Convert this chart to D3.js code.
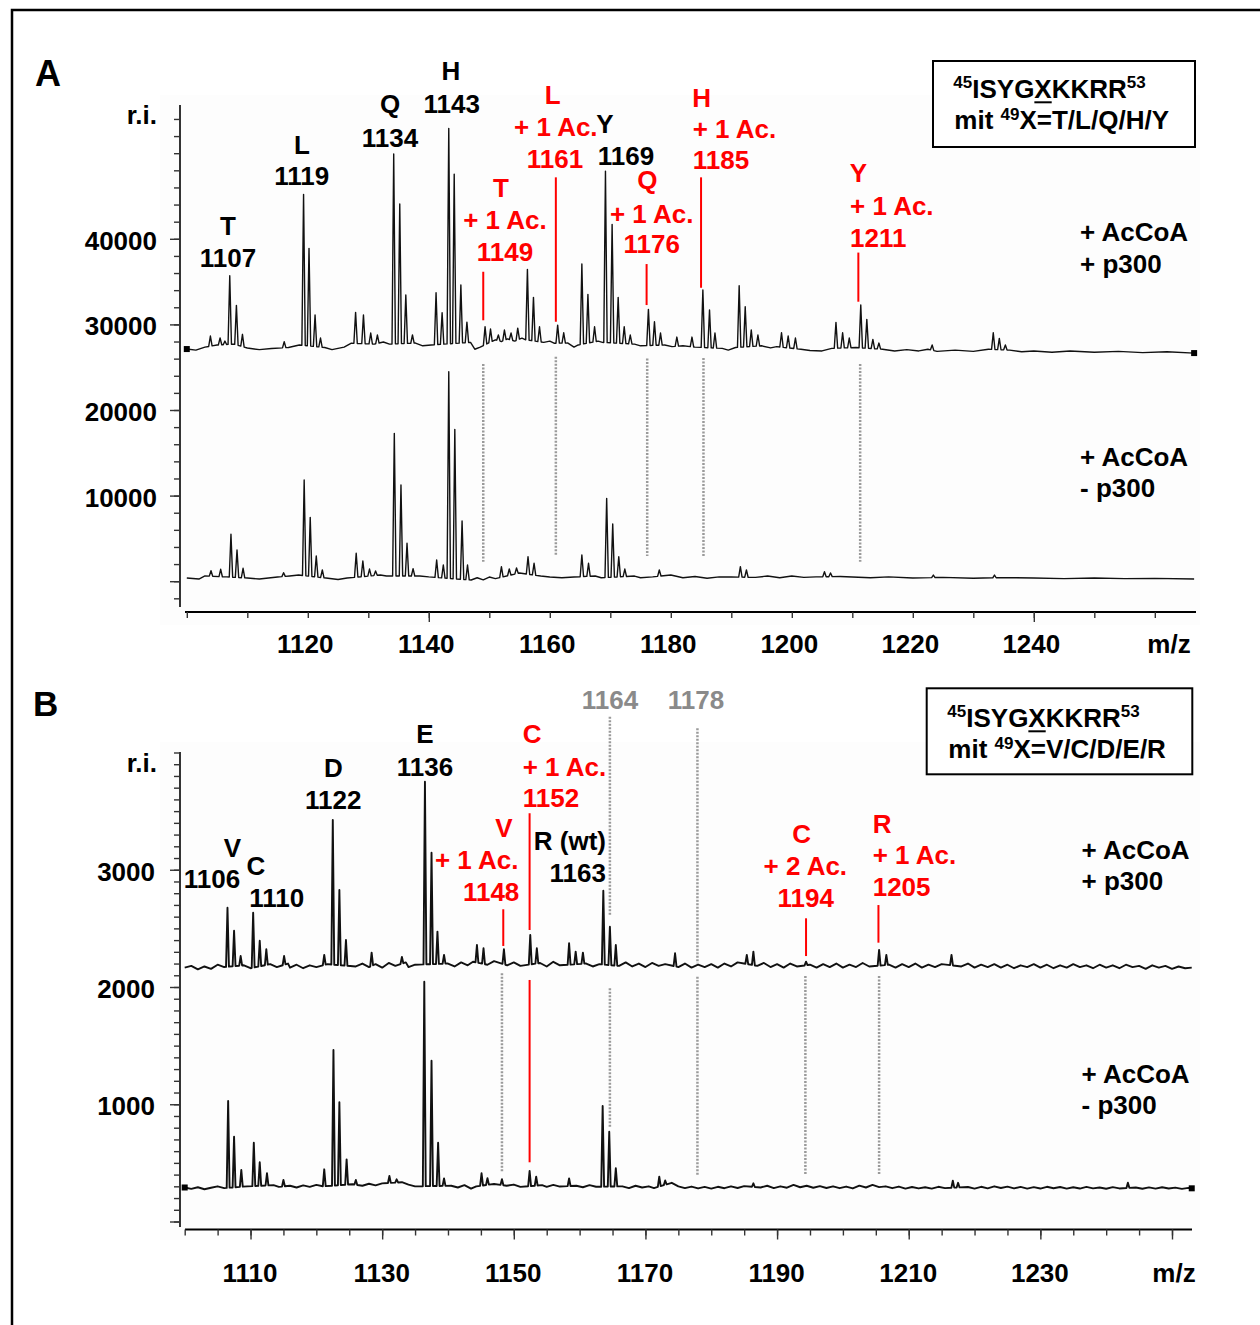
<!DOCTYPE html>
<html><head><meta charset="utf-8">
<script src="https://cdn.jsdelivr.net/npm/d3@7"></script>
<style>body{margin:0;background:#fff;}</style>
</head><body>
<svg id="c" width="1260" height="1325"></svg>
<script>
// ---------------- DATA ----------------
const xTicksA = [1120,1140,1160,1180,1200,1220,1240];
const yTicksA = [10000,20000,30000,40000];
const xTicksB = [1110,1130,1150,1170,1190,1210,1230];
const yTicksB = [1000,2000,3000];

// Panel A, + AcCoA + p300 (upper trace): baseline and peaks [m/z, intensity]
const aUpperBaseline = [[1100,27120],[1101.5,27000],[1103,27350],[1105,27590],[1107.8,27700],[1110,27240],[1112,27050],[1114,27180],[1116.8,27300],[1118.6,27600],[1122.8,27300],[1124,27050],[1126,27350],[1127.2,27800],[1131,27700],[1132.5,27940],[1133.5,27700],[1137.8,27820],[1139,27500],[1140.4,27600],[1146.9,27900],[1147.6,27100],[1148.5,27350],[1151,28200],[1152,28000],[1153,28300],[1154.2,28050],[1155.4,28400],[1156,28200],[1159,27900],[1160,28050],[1160.7,27800],[1163,27820],[1164,27350],[1164.7,27600],[1168,28050],[1168.7,27900],[1174,27700],[1175,27500],[1179,27590],[1180.2,27400],[1182,27500],[1184,27350],[1188.5,27200],[1189.5,27000],[1190.7,27300],[1195,27500],[1196.5,27250],[1197.5,27400],[1201.5,27100],[1203,26950],[1205,26900],[1206.6,27200],[1210.6,27300],[1215,27100],[1217,26900],[1219,27050],[1221,26900],[1222.5,27100],[1224,26850],[1227,27000],[1230,26850],[1232.5,27100],[1236,27000],[1238,26800],[1240,26900],[1243,26750],[1246,26900],[1250,26750],[1254,26850],[1258,26700],[1262,26800],[1266.5,26650]];
const aUpperPeaks = [[1103.9,28640],[1105.5,28410],[1106.3,28050],[1107.1,35680],[1108.2,32220],[1109.2,28840],[1116.1,27970],[1119.3,45190],[1120.2,38880],[1121.2,31090],[1122.1,28410],[1127.9,31410],[1129.2,31090],[1130.4,28990],[1131.5,28760],[1134.2,49900],[1135.2,44060],[1136.2,33430],[1137.3,28760],[1141.2,33700],[1142.2,31360],[1143.3,52900],[1144.2,47560],[1145.3,34600],[1146.3,30270],[1149.3,29730],[1150.2,29460],[1151.5,28760],[1152.5,29340],[1153.6,28990],[1154.7,29570],[1156.3,36430],[1157.3,33160],[1158.3,29730],[1161.3,29920],[1162.3,29020],[1165.3,37050],[1166.3,33510],[1167.4,29730],[1169.2,47910],[1170.3,41690],[1171.3,33160],[1172.3,29730],[1173.3,28760],[1176.3,31760],[1177.3,30310],[1178.3,28990],[1181,28520],[1183.5,28520],[1185.3,34010],[1186.4,31680],[1187.3,28990],[1191.3,34520],[1192.3,32060],[1193.3,29340],[1194.4,28760],[1198.3,29020],[1199.4,28640],[1200.6,28410],[1207.3,30240],[1208.4,29020],[1209.5,28410],[1211.4,32260],[1212.4,30590],[1213.4,28250],[1214.4,27820],[1223.2,27590],[1233.3,29020],[1234.3,28370],[1235.3,27590]];

// Panel A, + AcCoA - p300 (lower trace)
const aLowerBaseline = [[1100,370],[1102,250],[1103,610],[1106.6,500],[1110,370],[1112,250],[1115,490],[1117,610],[1118.5,720],[1123,370],[1125,200],[1126.5,370],[1132,720],[1133,600],[1138.5,610],[1140,500],[1147,140],[1148,400],[1149,150],[1150,490],[1151,300],[1155,960],[1158.5,600],[1160,490],[1162,400],[1164,490],[1167.5,610],[1168.5,400],[1174,600],[1175,400],[1177,500],[1180,720],[1182,400],[1184,550],[1186,350],[1188,500],[1190,490],[1194,450],[1196,600],[1198,400],[1200,610],[1202,450],[1204,500],[1208,550],[1210,490],[1213,400],[1216,500],[1220,370],[1225,450],[1230,350],[1235,420],[1240,370],[1245,300],[1250,380],[1255,300],[1260,330],[1266.5,260]];
const aLowerPeaks = [[1104,1230],[1105.6,1390],[1107.3,5480],[1108.3,3640],[1109.3,1510],[1116,990],[1119.4,11820],[1120.4,7460],[1121.4,2940],[1122.4,1310],[1128,3260],[1129.1,2360],[1130.2,1420],[1131.2,1190],[1134.3,17270],[1135.4,11240],[1136.4,4430],[1137.4,1460],[1141.3,2480],[1142.4,1890],[1143.3,24470],[1144.3,17740],[1145.5,7030],[1146.4,1890],[1152,1690],[1153.3,1420],[1154.5,1540],[1156.4,2860],[1157.4,2090],[1165.3,3060],[1166.4,2090],[1169.4,9680],[1170.4,6680],[1171.4,2860],[1172.4,1420],[1178.1,1310],[1191.5,1690],[1192.5,1310],[1205.4,1110],[1206.4,960],[1223.4,720],[1233.5,720]];

// Panel B, + AcCoA + p300 (upper trace)
const bUpperBaseline = [[1100,2165],[1101,2180],[1102,2150],[1103,2175],[1104,2155],[1105,2190],[1106,2170],[1109,2185],[1110,2160],[1113,2195],[1114,2170],[1115.7,2200],[1116,2165],[1117,2190],[1118,2160],[1119,2185],[1120,2170],[1121.7,2195],[1126,2175],[1127,2200],[1128,2170],[1129,2195],[1130,2165],[1131,2205],[1132,2180],[1133.6,2210],[1134,2170],[1135,2190],[1140,2200],[1141,2175],[1142,2210],[1143,2185],[1143.8,2215],[1146,2190],[1147,2220],[1149,2185],[1150,2210],[1151,2180],[1154,2205],[1155,2175],[1156,2215],[1157,2185],[1161,2200],[1162,2175],[1163,2195],[1166,2180],[1167,2210],[1168,2175],[1169,2200],[1170,2170],[1171,2205],[1172,2180],[1173,2195],[1175,2170],[1176,2200],[1177,2165],[1178,2190],[1179,2170],[1180,2195],[1181,2165],[1182,2200],[1183,2175],[1184,2210],[1187,2180],[1188,2205],[1189,2170],[1190,2195],[1191,2165],[1192,2200],[1193,2175],[1195,2190],[1196,2165],[1197,2195],[1198,2170],[1199,2200],[1200,2165],[1201,2190],[1202,2170],[1203,2205],[1204,2175],[1207,2190],[1208,2165],[1209,2195],[1210,2170],[1211,2200],[1212,2165],[1213,2190],[1214,2170],[1215,2195],[1218,2175],[1219,2200],[1220,2165],[1221,2190],[1222,2170],[1223,2195],[1224,2165],[1225,2190],[1226,2160],[1227,2185],[1228,2170],[1229,2195],[1230,2165],[1231,2190],[1232,2160],[1233,2185],[1234,2165],[1235,2195],[1236,2170],[1237,2185],[1238,2160],[1239,2190],[1240,2165],[1241,2185],[1242,2160],[1243,2190],[1244,2170],[1245,2180],[1246,2155],[1247,2185],[1248,2165],[1249,2180],[1250,2155],[1251,2175],[1252,2160],[1253,2165]];
const bUpperPeaks = [[1106.5,2676],[1107.5,2480],[1108.5,2264],[1110.4,2634],[1111.4,2395],[1112.4,2322],[1115.1,2264],[1121.2,2273],[1122.5,3424],[1123.5,2827],[1124.5,2401],[1128.4,2293],[1133,2256],[1136.5,3751],[1137.5,3145],[1138.4,2472],[1139.4,2273],[1144.4,2358],[1145.4,2330],[1148.5,2322],[1152.5,2444],[1153.5,2330],[1158.4,2373],[1159.4,2301],[1160.5,2293],[1163.6,2821],[1164.6,2514],[1165.5,2358],[1174.5,2288],[1185.4,2273],[1186.4,2301],[1194.4,2216],[1205.5,2316],[1206.6,2273],[1216.5,2273]];

// Panel B, + AcCoA - p300 (lower trace)
const bLowerBaseline = [[1100,290],[1101,278],[1102,292],[1103,275],[1104,288],[1105,300],[1106,285],[1109.5,300],[1113.5,310],[1114.3,295],[1116,305],[1117,290],[1118,308],[1119,295],[1120,312],[1121,300],[1125.5,318],[1127,305],[1128,322],[1129,308],[1130,325],[1133,335],[1134,315],[1135,300],[1140.5,305],[1141.5,290],[1142.5,310],[1143.5,280],[1144.3,300],[1147,320],[1148.9,305],[1150,315],[1151,295],[1154.3,310],[1155,295],[1156,312],[1157,298],[1159.5,305],[1160.5,292],[1161.5,310],[1162.5,296],[1166.5,300],[1167.5,285],[1168.5,305],[1169.5,290],[1170.5,300],[1171.3,285],[1174,330],[1175,300],[1176,285],[1177,298],[1178,282],[1179,295],[1180,280],[1181,296],[1182,284],[1183,300],[1184,286],[1185,302],[1187.5,290],[1188.5,305],[1189.5,285],[1190.5,300],[1191.5,288],[1192.5,312],[1193.5,292],[1194.5,305],[1195.5,288],[1196.5,302],[1197.5,286],[1198.5,300],[1199.5,284],[1200.5,298],[1201.5,282],[1202.5,306],[1203.5,290],[1204.5,312],[1205.5,293],[1206.5,300],[1207.5,284],[1208.5,298],[1209.5,280],[1210.5,294],[1211.5,282],[1212.5,292],[1213.5,280],[1214.5,296],[1215.5,285],[1219,294],[1220,280],[1221,296],[1222,283],[1223,300],[1224,286],[1225,297],[1226,282],[1227,295],[1228,280],[1229,293],[1230,281],[1231,296],[1232,284],[1233,294],[1234,280],[1235,292],[1236,281],[1237,295],[1238,283],[1239,290],[1240,279],[1241,293],[1242,282],[1244.5,290],[1245.5,279],[1246.5,291],[1247.5,280],[1248.5,292],[1249.5,281],[1250.5,289],[1251.5,278],[1252.5,287],[1253,283]];
const bLowerPeaks = [[1106.6,1028],[1107.5,723],[1108.6,439],[1110.5,672],[1111.4,505],[1112.5,411],[1115,354],[1121.2,445],[1122.6,1463],[1123.5,1017],[1124.6,530],[1126,354],[1131.1,388],[1132.2,360],[1136.4,2045],[1137.5,1371],[1138.5,672],[1139.4,368],[1145.1,411],[1146,370],[1148.2,360],[1152.4,431],[1153.4,382],[1158.4,368],[1163.5,985],[1164.5,766],[1165.5,454],[1172.1,382],[1173,350],[1186.4,326],[1216.7,348],[1217.5,330],[1243.3,331]];

// Marker lines: [m/z, intensity from, intensity to]
const aRedLines = [[1149,36150,30480],[1161,47180,30310],[1176,37050,32260],[1185,47180,34280],[1211,38390,32650]];
const aDotLines = [[1149,25370,2280],[1161,26220,3060],[1176.1,26030,2940],[1185.4,26070,2940],[1211.3,25370,2280]];
const bRedLines = [[1148.4,2663,2350],[1152.4,3482,2486],[1152.4,2060,505],[1194.4,2586,2264],[1205.4,2699,2378]];
const bDotLines = [[1148.2,2117,425],[1164.6,4305,2614],[1164.6,1989,809],[1177.9,4206,2203],[1177.9,2088,397],[1194.3,2094,405],[1205.5,2094,397]];

// ---------------- DRAWING ----------------
const svg = d3.select('#c');
const FONT = '"Liberation Sans", Arial, Helvetica, sans-serif';
const RED = '#ff0000', GREY = '#8a8a8a';

const xA = d3.scaleLinear().domain([1100,1267]).range([186.8, 186.8 + 167*6.05]);
const yA = d3.scaleLinear().domain([0,40000]).range([581.2, 238.8]);
const xB = d3.scaleLinear().domain([1100,1253]).range([184.7, 184.7 + 153*6.582]);
const yB = d3.scaleLinear().domain([0,4000]).range([1221.5, 752.5]);

// very light plot backgrounds
svg.append('rect').attr('x',160).attr('y',95).attr('width',1040).attr('height',530).attr('fill','#fdfdfd');
svg.append('rect').attr('x',160).attr('y',742).attr('width',1040).attr('height',498).attr('fill','#fdfdfd');

// frame
svg.append('path').attr('d','M12,1330 V10 H1265').attr('fill','none').attr('stroke','#000').attr('stroke-width',2.5);

function txt(x, y, s, o={}) {
  return svg.append('text').attr('x',x).attr('y',y)
    .attr('text-anchor',o.anchor||'start').attr('font-size',o.size||26)
    .attr('font-weight','bold').attr('font-family',FONT)
    .attr('fill',o.color||'#000').text(s);
}

function yAxis(scale, minorVals, majorVals, labelVals, x, top, bottom, labelRight) {
  const g = svg.append('g').attr('transform',`translate(${x},0)`);
  g.append('line').attr('y1',top).attr('y2',bottom).attr('stroke','#000').attr('stroke-width',1.6);
  const mi = g.append('g').call(d3.axisLeft(scale).tickValues(minorVals).tickSize(6).tickFormat(''));
  const ma = g.append('g').call(d3.axisLeft(scale).tickValues(majorVals).tickSize(10).tickFormat(''));
  [mi,ma].forEach(a=>{a.select('.domain').remove(); a.selectAll('line').attr('stroke','#333').attr('stroke-width',1.4);});
  const lab = g.append('g').call(d3.axisLeft(scale).tickValues(labelVals).tickSize(0).tickPadding(x-labelRight).tickFormat(d3.format('d')));
  lab.select('.domain').remove();
  lab.selectAll('text').attr('font-size',26).attr('font-weight','bold').attr('font-family',FONT).attr('fill','#000').attr('dy',10.5);
}
function xAxis(scale, minorVals, majorVals, labelVals, y, x0, x1, labelOff, labelDx) {
  const g = svg.append('g').attr('transform',`translate(0,${y})`);
  g.append('line').attr('x1',x0).attr('x2',x1).attr('stroke','#000').attr('stroke-width',2);
  const mi = g.append('g').call(d3.axisBottom(scale).tickValues(minorVals).tickSize(6).tickFormat(''));
  const ma = g.append('g').call(d3.axisBottom(scale).tickValues(majorVals).tickSize(10).tickFormat(''));
  [mi,ma].forEach(a=>{a.select('.domain').remove(); a.selectAll('line').attr('stroke','#333').attr('stroke-width',1.4);});
  const lab = g.append('g').call(d3.axisBottom(scale).tickValues(labelVals).tickSize(0).tickFormat(d3.format('d')));
  lab.select('.domain').remove();
  lab.selectAll('text').attr('font-size',26).attr('font-weight','bold').attr('font-family',FONT).attr('fill','#000')
     .attr('y',labelOff).attr('dy',0).attr('dx',labelDx);
}

function drawTrace(xs, ys, baseline, peaks, hw, sw) {
  const base = d3.scaleLinear().domain(baseline.map(d=>d[0])).range(baseline.map(d=>d[1]));
  const pts = baseline.filter(b => !peaks.some(p => Math.abs(p[0]-b[0]) < hw + 0.05)).map(d=>[d[0],d[1]]);
  peaks.forEach(p => {
    pts.push([p[0]-hw, base(p[0]-hw)]);
    pts.push([p[0], p[1]]);
    pts.push([p[0]+hw, base(p[0]+hw)]);
  });
  pts.sort((a,b)=>a[0]-b[0]);
  svg.append('path').datum(pts)
    .attr('d', d3.line().x(d=>xs(d[0])).y(d=>ys(d[1])))
    .attr('fill','none').attr('stroke','#111').attr('stroke-width',sw).attr('stroke-linejoin','round');
  return pts;
}
function marker(xs, ys, pt) {
  svg.append('rect').attr('x',xs(pt[0])-3).attr('y',ys(pt[1])-3).attr('width',6).attr('height',6).attr('fill','#000');
}
function vlines(xs, ys, data, color, dashed, w) {
  data.forEach(d => {
    const l = svg.append('line').attr('x1',xs(d[0])).attr('x2',xs(d[0]))
      .attr('y1',ys(d[1])).attr('y2',ys(d[2])).attr('stroke',color).attr('stroke-width',w);
    if (dashed) l.attr('stroke-dasharray','2,1.5');
  });
}

// ===== Panel A =====
txt(35, 86, 'A', {size:36});
txt(157, 124, 'r.i.', {anchor:'end'});
yAxis(yA, d3.range(-2000, 54001, 2000), [0,10000,20000,30000,40000], yTicksA, 180, 105, 607, 157);
xAxis(xA, d3.range(1100, 1261, 10), [1140,1240], xTicksA, 612, 185, 1196, 41, -3);
txt(1169, 653, 'm/z', {anchor:'middle'});

vlines(xA, yA, aDotLines, '#9a9a9a', true, 2.5);
drawTrace(xA, yA, aUpperBaseline, aUpperPeaks, 0.28, 1.4);
drawTrace(xA, yA, aLowerBaseline, aLowerPeaks, 0.28, 1.4);
marker(xA, yA, aUpperBaseline[0]);
marker(xA, yA, aUpperBaseline[aUpperBaseline.length-1]);
vlines(xA, yA, aRedLines, RED, false, 2);

// labels A
[
 ['T',228,235,'middle','#000'],['1107',228,266.7,'middle','#000'],
 ['L',302,154,'middle','#000'],['1119',301.7,185,'middle','#000'],
 ['Q',390,113.3,'middle','#000'],['1134',390,146.7,'middle','#000'],
 ['H',451,80,'middle','#000'],['1143',451.7,112.7,'middle','#000'],
 ['Y',605,133.3,'middle','#000'],['1169',626,164.5,'middle','#000'],
 ['T',501,196.7,'middle',RED],['+ 1 Ac.',505,229.3,'middle',RED],['1149',505,261,'middle',RED],
 ['L',552.7,104,'middle',RED],['+ 1 Ac.',555.8,136,'middle',RED],['1161',555,168.3,'middle',RED],
 ['Q',647.3,189,'middle',RED],['+ 1 Ac.',651.7,222.7,'middle',RED],['1176',651.7,253.3,'middle',RED],
 ['H',701.7,106.7,'middle',RED],['+ 1 Ac.',692.7,138.3,'start',RED],['1185',692.7,169.3,'start',RED],
 ['Y',858.3,181.7,'middle',RED],['+ 1 Ac.',850,215,'start',RED],['1211',850,246.7,'start',RED],
 ['+ AcCoA',1080,241,'start','#000'],['+ p300',1080,273,'start','#000'],
 ['+ AcCoA',1080,466,'start','#000'],['- p300',1080,497,'start','#000']
].forEach(d => txt(d[1], d[2], d[0], {anchor:d[3], color:d[4]}));

function seqBox(x0, y0, x1, y1, tx, ty1, ty2, variants) {
  svg.append('rect').attr('x',x0).attr('y',y0).attr('width',x1-x0).attr('height',y1-y0)
    .attr('fill','#fff').attr('stroke','#000').attr('stroke-width',2);
  const t1 = svg.append('text').attr('x',tx).attr('y',ty1).attr('font-size',26).attr('font-weight','bold').attr('font-family',FONT);
  t1.append('tspan').attr('font-size',17).attr('dy',-9.5).text('45');
  t1.append('tspan').attr('dy',9.5).text('ISYG');
  t1.append('tspan').text('X');
  t1.append('tspan').text('KKRR');
  t1.append('tspan').attr('font-size',17).attr('dy',-9.5).text('53');
  const ext = t1.node().getExtentOfChar(6);
  svg.append('line').attr('x1',ext.x).attr('x2',ext.x+ext.width).attr('y1',ty1+4.6).attr('y2',ty1+4.6)
    .attr('stroke','#000').attr('stroke-width',2);
  const t2 = svg.append('text').attr('x',tx+1).attr('y',ty2).attr('font-size',26).attr('font-weight','bold').attr('font-family',FONT);
  t2.append('tspan').text('mit ');
  t2.append('tspan').attr('font-size',17).attr('dy',-9.5).text('49');
  t2.append('tspan').attr('dy',9.5).text('X=' + variants);
}
seqBox(933, 61, 1195, 147, 953.3, 97.7, 129.3, 'T/L/Q/H/Y');

// ===== Panel B =====
txt(33, 716, 'B', {size:35});
txt(157, 771.7, 'r.i.', {anchor:'end'});
yAxis(yB, d3.range(0, 4001, 100), [0,1000,2000,3000], yTicksB, 180, 752, 1227, 155);
xAxis(xB, d3.range(1100, 1254, 5), d3.range(1110, 1254, 20), xTicksB, 1229.5, 185, 1192, 52, -1);
txt(1174, 1281.7, 'm/z', {anchor:'middle'});

vlines(xB, yB, bDotLines, '#9a9a9a', true, 2.5);
drawTrace(xB, yB, bUpperBaseline, bUpperPeaks, 0.22, 1.9);
drawTrace(xB, yB, bLowerBaseline, bLowerPeaks, 0.22, 1.9);
marker(xB, yB, bLowerBaseline[0]);
marker(xB, yB, bLowerBaseline[bLowerBaseline.length-1]);
vlines(xB, yB, bRedLines, RED, false, 2);

[
 ['V',232.3,856.7,'middle','#000'],['1106',212,888.3,'middle','#000'],
 ['C',256,875,'middle','#000'],['1110',276.7,906.7,'middle','#000'],
 ['D',333.3,777.3,'middle','#000'],['1122',333.3,809.3,'middle','#000'],
 ['E',425,743.3,'middle','#000'],['1136',425,776,'middle','#000'],
 ['V',504,836.7,'middle',RED],['+ 1 Ac.',518.5,869.3,'end',RED],['1148',519.3,900.7,'end',RED],
 ['C',522.7,742.7,'start',RED],['+ 1 Ac.',522.7,776,'start',RED],['1152',522.7,806.7,'start',RED],
 ['R (wt)',606,850,'end','#000'],['1163',606,881.7,'end','#000'],
 ['1164',610,709.3,'middle',GREY],['1178',696,709.3,'middle',GREY],
 ['C',801.7,843.3,'middle',RED],['+ 2 Ac.',805.3,875,'middle',RED],['1194',805.7,907.3,'middle',RED],
 ['R',872.7,832.7,'start',RED],['+ 1 Ac.',872.7,864.3,'start',RED],['1205',872.7,896,'start',RED],
 ['+ AcCoA',1081.5,859.3,'start','#000'],['+ p300',1081.5,890,'start','#000'],
 ['+ AcCoA',1081.5,1083.3,'start','#000'],['- p300',1081.5,1114,'start','#000']
].forEach(d => txt(d[1], d[2], d[0], {anchor:d[3], color:d[4]}));

seqBox(926.7, 688.3, 1192.3, 774.3, 947.3, 726.7, 758.3, 'V/C/D/E/R');
</script>
</body></html>
